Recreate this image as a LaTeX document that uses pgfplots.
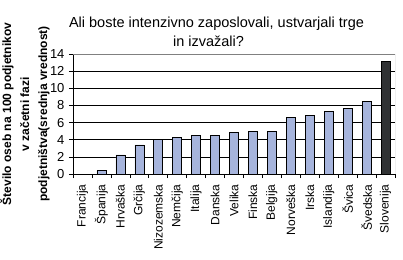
\documentclass[border=0pt]{standalone}
\usepackage{fontspec}
\setmainfont{Liberation Sans}
\usepackage{pgfplots}
\pgfplotsset{compat=1.18}
\definecolor{barblue}{RGB}{166,180,220}
\definecolor{bardark}{RGB}{48,50,52}
\begin{document}
\begin{tikzpicture}
\path[use as bounding box] (-73pt,-85pt) rectangle (330pt,174pt);
\begin{axis}[
  at={(0,0)}, anchor=south west,
  scale only axis, width=322pt, height=120pt,
  xmin=-0.5, xmax=16.5, ymin=0, ymax=14,
  ytick={0,2,...,14},
  xtick={0,...,16},
  xticklabels={Francija,Španija,Hrvaška,Grčija,Nizozemska,Nemčija,Italija,Danska,Velika,Finska,Belgija,Norveška,Irska,Islandija,Švica,Švedska,Slovenija},
  x tick label style={rotate=90, anchor=east, font=\fontsize{12}{14}\selectfont},
  y tick label style={font=\fontsize{13}{15}\selectfont},
  /pgf/number format/assume math mode=true,
  major x tick style={draw=none},
  minor xtick={-0.5,0.5,...,16.5},
  minor tick length=4pt,
  major tick length=4pt,
  tick align=outside,
  tick style={black, line width=0.6pt},
  axis x line*=bottom, axis y line*=left,
  axis line style={black, line width=0.6pt, -},
  ymajorgrids, grid style={black, line width=0.6pt},
  xticklabel shift=3pt,
  yticklabel shift=1pt,
  ybar, bar width=9pt, bar shift=0pt,
]
\addplot[fill=barblue, draw=black, line width=0.5pt] coordinates {
(1,0.4) (2,2.24) (3,3.4) (4,4.04) (5,4.27) (6,4.5) (7,4.5) (8,4.86) (9,4.98)
(10,4.98) (11,6.59) (12,6.82) (13,7.33) (14,7.69) (15,8.47)};
\addplot[fill=bardark, draw=black, line width=0.5pt] coordinates {(16,13.18)};
\draw[gray, line width=0.6pt] (rel axis cs:0,1) -- (rel axis cs:1,1) -- (rel axis cs:1,0);
\end{axis}
\node[anchor=base, font=\fontsize{14.5}{19}\selectfont, inner sep=0pt] at (143.5pt,146pt) {Ali boste intenzivno zaposlovali, ustvarjali trge};
\node[anchor=base, font=\fontsize{14.5}{19}\selectfont, inner sep=0pt] at (135.5pt,127pt) {in izvažali?};
\node[rotate=90, align=center, font=\bfseries\fontsize{12}{18}\selectfont] at (-48pt,60pt) {Število oseb na 100 podjetnikov\\v začetni fazi\\podjetništva(srednja vrednost)};
\end{tikzpicture}
\end{document}
